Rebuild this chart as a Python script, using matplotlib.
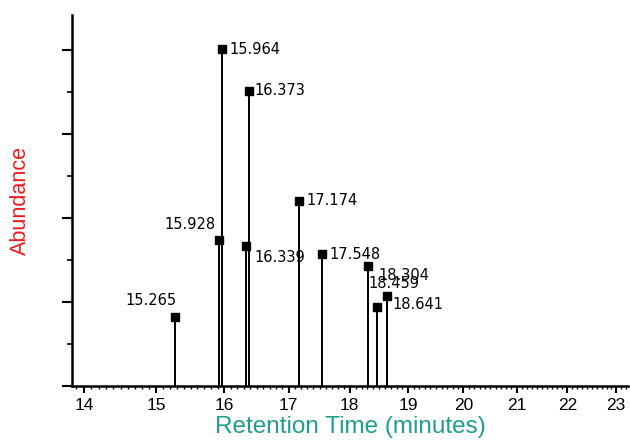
import numpy as np
import matplotlib
matplotlib.use("Agg")
import matplotlib.pyplot as plt
from matplotlib.ticker import MultipleLocator, NullFormatter

# retention times (minutes) and peak heights (arbitrary abundance units)
rt = [15.265, 15.928, 15.964, 16.339, 16.373, 17.174, 17.548, 18.304, 18.459, 18.641]
abundance = [0.82, 1.74, 4.01, 1.67, 3.52, 2.21, 1.57, 1.43, 0.94, 1.07]
peak_labels = ["15.265", "15.928", "15.964", "16.339", "16.373",
               "17.174", "17.548", "18.304", "18.459", "18.641"]
x_ticks = [14, 15, 16, 17, 18, 19, 20, 21, 22, 23]

# label placement: (dx, dy) in pixels, horizontal alignment
label_pos = [(2, 17, "right"), (-4, 15, "right"), (8, 0, "left"), (8, -12, "left"),
             (6, 0, "left"), (7, 0, "left"), (7, 0, "left"), (11, -10, "left"),
             (-8, 24, "left"), (5, -8, "left")]

plt.rcParams['font.family'] = ['Liberation Sans', 'DejaVu Sans']

fig = plt.figure(figsize=(6.3, 4.42), dpi=100)
ax = fig.add_axes([72/630, 1 - 386/442, 556/630, (386 - 15)/442])

# the source x axis is compressed towards the right end
ax.set_xscale('function', functions=(lambda x: np.log(x + 2.2), lambda y: np.exp(y) - 2.2))

ax.vlines(rt, 0, abundance, colors='black', linewidth=1.4)
ax.plot(rt, abundance, 's', color='black', markersize=5.5, linestyle='none')

for x, y, lab, (dx, dy, ha) in zip(rt, abundance, peak_labels, label_pos):
    ax.annotate(lab, (x, y), xytext=(dx, dy), textcoords='offset pixels',
                ha=ha, va='center', fontsize=10.5, family='DejaVu Sans')

ax.set_xlim(13.84, 23.25)
ax.set_ylim(0, 4.42)
ax.set_xticks(x_ticks)
ax.xaxis.set_minor_locator(MultipleLocator(0.1))
ax.yaxis.set_major_locator(MultipleLocator(1))
ax.yaxis.set_minor_locator(MultipleLocator(0.5))
ax.yaxis.set_major_formatter(NullFormatter())

for s in ['top', 'right']:
    ax.spines[s].set_visible(False)
for s in ['left', 'bottom']:
    ax.spines[s].set_linewidth(1.8)

ax.tick_params(axis='y', which='major', length=7, width=1.5)
ax.tick_params(axis='y', which='minor', length=3.5, width=1.2)
ax.tick_params(axis='x', which='major', length=5, width=1.5, labelsize=12.5, pad=4)
ax.tick_params(axis='x', which='minor', length=2.5, width=1.0)

ax.set_xlabel('Retention Time (minutes)', color='#1f9e8e', fontsize=17.5, labelpad=2)
ax.set_ylabel('Abundance', color='#ee1c1c', fontsize=15.6, labelpad=19)

fig.savefig('out.png', dpi=100)
